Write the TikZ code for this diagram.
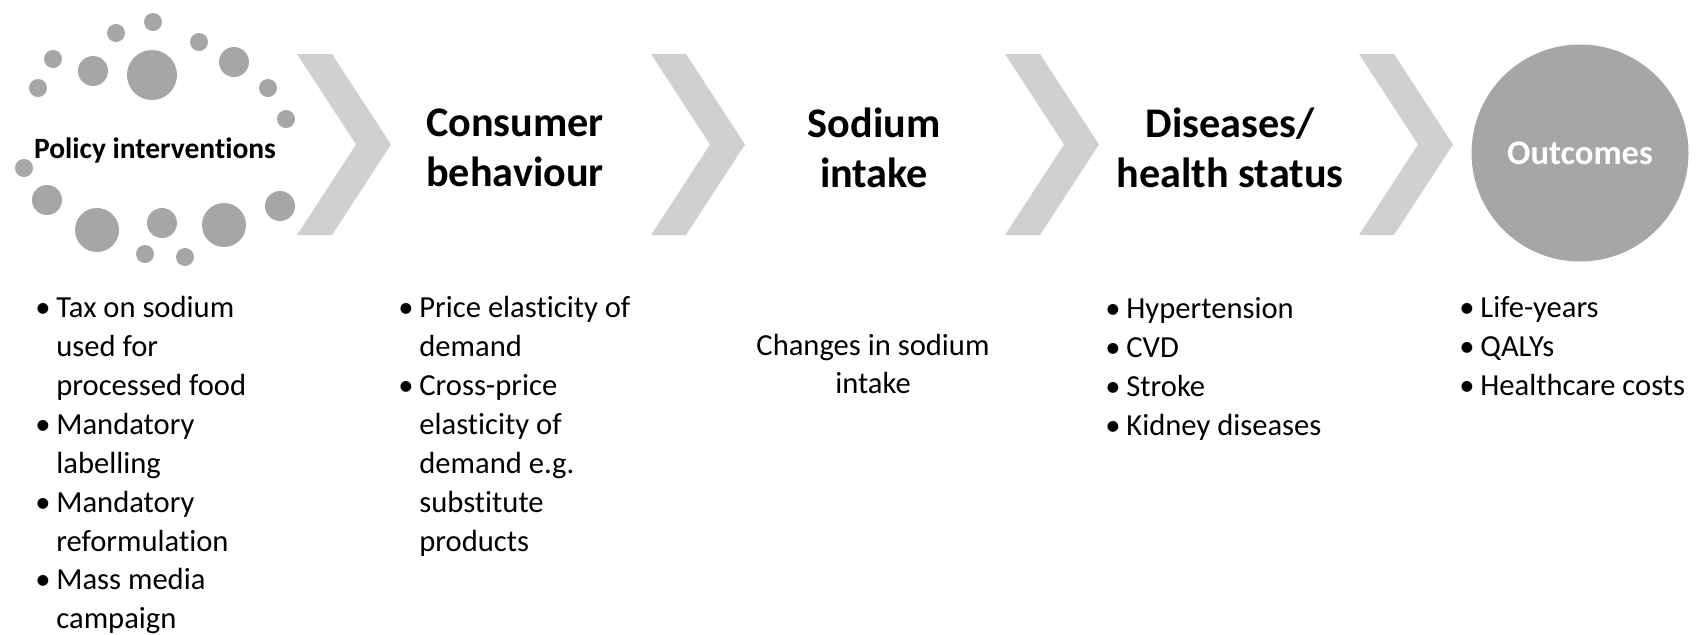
\documentclass[tikz,border=0pt]{standalone}
\usepackage{fontspec}
\setmainfont{Carlito}[Ligatures={NoCommon,NoContextual,NoRare}, Contextuals=NoAlternate]

\definecolor{dotgray}{HTML}{A6A6A6}
\definecolor{chevgray}{HTML}{D0D0D0}

\newcommand{\bul}{\makebox[10.5pt][l]{•}}
\newcommand{\hang}{\hspace*{10.5pt}}

\begin{document}
\begin{tikzpicture}[
  x=0.5pt, y=-0.5pt,
  head/.style={font=\fontsize{21.1}{25}\selectfont\bfseries, align=center, inner sep=0pt},
  body/.style={font=\fontsize{15.3}{19.45}\selectfont, inner sep=0pt},
  blist/.style={body, align=left, anchor=north west},
  dot/.style={fill=dotgray},
  chev/.style={fill=chevgray},
]

\useasboundingbox (0,0) rectangle (1696,634);

% Ring of dots round the first stage
\foreach \x/\y/\r in {153/22/9, 116/33/9, 199/42/9, 53/59/9, 93/71/15, 152/75/25,
                      234/62/15, 38/88/9, 268/88/9, 286/119/9, 24/168/9, 47/200/15,
                      97/230/22, 162/223/15, 224/225/22, 280/206/15, 145/254/9, 185/257/9}
  \fill[dot] (\x,\y) circle[radius=\r];

% Chevrons between stages
\foreach \cx in {297,651,1005,1359}
  \fill[chev] (\cx,54) -- ++(35,0) -- ++(59,90.5) -- ++(-59,90.5) -- ++(-35,0)
              -- ++(59,-90.5) -- cycle;

% Stages
\node[font=\fontsize{14.75}{18}\selectfont\bfseries, inner sep=0pt] (policy) at (155,150)
  {Policy interventions};
\node[head] (consumer) at (515,148) {Consumer\\behaviour};
\node[head] (sodium) at (874,148) {Sodium\\intake};
\node[head] (disease) at (1230,148) {Diseases/\\health status};
\node[circle, fill=dotgray, inner sep=0pt, minimum size=108.5pt, text=white,
      font=\fontsize{17.3}{20}\selectfont\bfseries] (outcomes) at (1580,153) {Outcomes};

% Details under each stage
\node[blist] (policyList) at (35,296)
  {\bul Tax on sodium\\ \hang used for\\ \hang processed food\\
   \bul Mandatory\\ \hang labelling\\ \bul Mandatory\\ \hang reformulation\\
   \bul Mass media\\ \hang campaign};
\node[blist] (consumerList) at (398,296)
  {\bul Price elasticity of\\ \hang demand\\ \bul Cross-price\\ \hang elasticity of\\
   \hang demand e.g.\\ \hang substitute\\ \hang products};
\node[body, align=center] (sodiumText) at (873,364) {Changes in sodium\\intake};
\node[blist] (diseaseList) at (1105,297)
  {\bul Hypertension\\ \bul CVD\\ \bul Stroke\\ \bul Kidney diseases};
\node[blist] (outcomesList) at (1459,296)
  {\bul Life-years\\ \bul QALYs\\ \bul Healthcare costs};

\end{tikzpicture}
\end{document}
